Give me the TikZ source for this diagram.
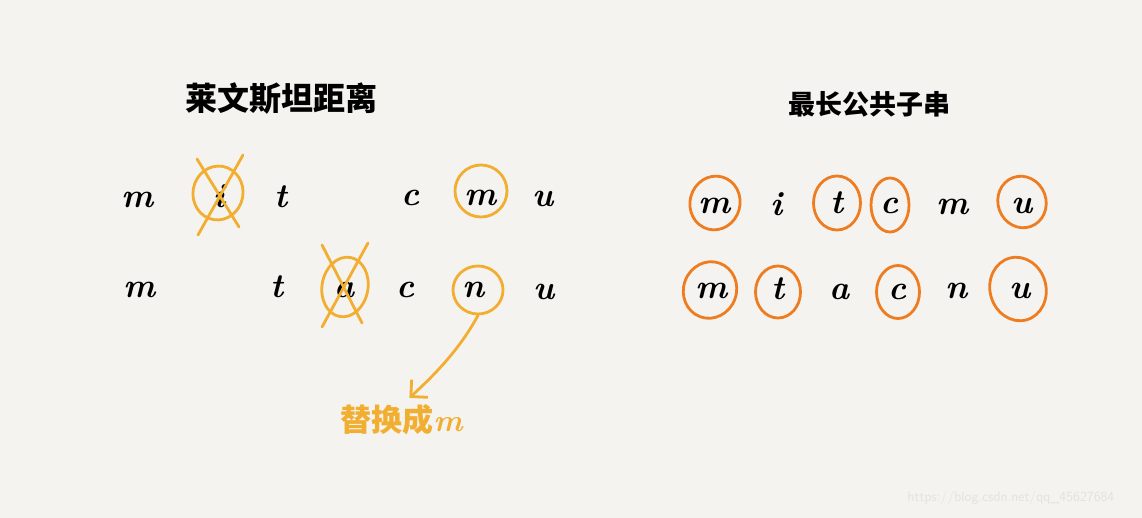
\documentclass[tikz,border=0pt]{standalone}
\usepackage{fontspec}
\newfontfamily\cjk{Noto Sans CJK SC}
\usetikzlibrary{shapes.geometric}
\usetikzlibrary{arrows.meta}
\definecolor{paper}{HTML}{F5F3EF}
\definecolor{gold}{HTML}{F1AE30}
\definecolor{tang}{HTML}{EE7D22}
\definecolor{faint}{HTML}{E4E2DE}

\begin{document}
\begin{tikzpicture}[x=1pt,y=-1pt,every node/.style={inner sep=0pt},
    ltr/.style={font=\fontsize{34}{34}\selectfont\bfseries\itshape,text height=15pt,text depth=0pt},
    ring/.style={ellipse,draw=#1,line width=2.8pt,minimum width=50pt,minimum height=54pt},
    cross/.style={draw=gold,line width=2.8pt,line cap=round}]

 \fill[paper] (0,0) rectangle (1142,518);

 \draw (281,99)  node[font=\cjk\bfseries\fontsize{32}{32}\selectfont] (titleL) {莱文斯坦距离};
 \draw (869,104) node[font=\cjk\bfseries\fontsize{27}{27}\selectfont] (titleR) {最长公共子串};

 \draw (138,200) node[ltr] (La1) {m};
 \draw (220,200) node[ltr] (La2) {i};
 \draw (281,200) node[ltr] (La3) {t};
 \draw (411,198) node[ltr] (La4) {c};
 \draw (481,198) node[ltr] (La5) {m};
 \draw (543,199) node[ltr] (La6) {u};

 \draw (140,290) node[ltr] (Lb1) {m};
 \draw (277,290) node[ltr] (Lb2) {t};
 \draw (345,290) node[ltr] (Lb3) {a};
 \draw (406,290) node[ltr] (Lb4) {c};
 \draw (474,290) node[ltr] (Lb5) {n};
 \draw (544,292) node[ltr] (Lb6) {u};

 \draw (218,193) node[ring=gold,rotate=-10] (Ci) {};
 \draw (481,191) node[ring=gold,minimum width=52pt,minimum height=52pt] (Cm) {};
 \draw (345,287) node[ring=gold,minimum width=46pt,minimum height=60pt,rotate=-10] (Ca) {};
 \draw (478,290) node[ring=gold,minimum width=50pt,minimum height=48pt] (Cn) {};

 \draw[cross] ([shift={(-21,-34)}]Ci.center) -- ([shift={(21,34)}]Ci.center);
 \draw[cross] ([shift={(25,-38)}]Ci.center) -- ([shift={(-20,42)}]Ci.center);
 \draw[cross] ([shift={(-23,-42)}]Ca.center) -- ([shift={(17,36)}]Ca.center);
 \draw[cross] ([shift={(23,-44)}]Ca.center) -- ([shift={(-23,40)}]Ca.center);

 \draw (402,420) node[font=\cjk\bfseries\fontsize{31}{31}\selectfont,text=gold] (sub)
              {替换成\textit{\rmfamily m}};

 \draw[gold,line width=2.8pt,line cap=round,-{Straight Barb[length=12pt,width=24pt]},shorten >=10pt]
    (Cn.south) .. controls (462,345) and (440,370) .. (sub.north);

 \draw (715,206) node[ltr] (Ra1) {m};
 \draw (777,208) node[ltr] (Ra2) {i};
 \draw (837,206) node[ltr] (Ra3) {t};
 \draw (890,206) node[ltr] (Ra4) {c};
 \draw (953,207) node[ltr] (Ra5) {m};
 \draw (1022,206) node[ltr] (Ra6) {u};

 \draw (712,291) node[ltr] (Rb1) {m};
 \draw (778,292) node[ltr] (Rb2) {t};
 \draw (840,292) node[ltr] (Rb3) {a};
 \draw (898,292) node[ltr] (Rb4) {c};
 \draw (957,291) node[ltr] (Rb5) {n};
 \draw (1020,291) node[ltr] (Rb6) {u};

 \draw (715,203) node[ring=tang,rotate=-15] (Da1) {};
 \draw (837,203) node[ring=tang,minimum width=47pt] (Da3) {};
 \draw (890,205) node[ring=tang,minimum width=38pt] (Da4) {};
 \draw (1022,202) node[ring=tang,minimum width=48pt,minimum height=52pt,rotate=20] (Da6) {};
 \draw (710,290) node[ring=tang,minimum width=53pt,minimum height=57pt,rotate=-20] (Db1) {};
 \draw (778,292) node[ring=tang,minimum width=45pt,minimum height=52pt] (Db2) {};
 \draw (898,292) node[ring=tang,minimum width=43pt,minimum height=53pt] (Db4) {};
 \draw (1018,289) node[ring=tang,minimum width=56pt,minimum height=64pt,rotate=15] (Db6) {};

 \draw (1011,498) node[font=\sffamily\fontsize{14}{14}\selectfont,text=faint] (mark)
              {https://blog.csdn.net/qq\_45627684};

\end{tikzpicture}
\end{document}
